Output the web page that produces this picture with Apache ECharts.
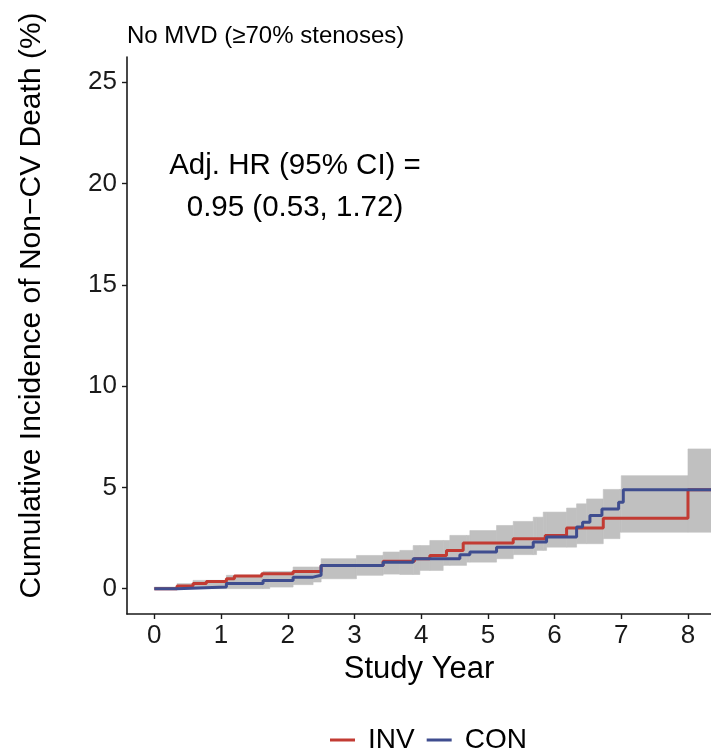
<!DOCTYPE html>
<html>
<head>
<meta charset="utf-8">
<script src="https://cdn.jsdelivr.net/npm/echarts@6/dist/echarts.min.js"></script>
<style>html,body{margin:0;padding:0;background:#fff;}#c{width:711px;height:749px;}</style>
</head>
<body>
<div id="c"></div>
<script>
// ---- data ----
const xTicks = [0, 1, 2, 3, 4, 5, 6, 7, 8];
const yTicks = [0, 5, 10, 15, 20, 25];
const seriesNames = ['INV', 'CON'];

const invX = [0, 0.34, 0.58, 0.78, 1.08, 1.2, 1.61, 2.08, 2.5, 3.43, 3.9, 4.13, 4.38, 4.63, 5.38, 5.86, 6.18, 6.73, 8.0, 8.4];
const invY = [0, 0.13, 0.25, 0.36, 0.49, 0.62, 0.74, 0.85, 1.15, 1.35, 1.48, 1.64, 1.89, 2.25, 2.46, 2.62, 2.99, 3.48, 4.88, 4.88];

const conX = [0, 0.34, 1.08, 1.63, 2.08, 2.38, 2.5, 3.43, 3.88, 4.58, 4.73, 5.13, 5.68, 5.88, 6.33, 6.42, 6.53, 6.71, 6.96, 7.03, 8.4];
const conY = [0, 0.08, 0.25, 0.41, 0.57, 0.66, 1.15, 1.31, 1.48, 1.68, 1.81, 2.05, 2.3, 2.55, 3.04, 3.28, 3.61, 3.94, 4.27, 4.88, 4.88];

const bandX   = [0, 0.34, 0.58, 1.08, 1.63, 1.73, 2.08, 2.38, 2.5, 3.03, 3.43, 3.68, 3.88, 3.98, 4.13, 4.33, 4.43, 4.68, 4.73, 5.13, 5.38, 5.68, 5.73, 5.83, 5.88, 6.18, 6.33, 6.48, 6.73, 6.98, 7.0, 8.0, 8.4];
const bandUp  = [0.08, 0.25, 0.41, 0.66, 0.85, 0.85, 1.07, 1.07, 1.48, 1.64, 1.81, 1.89, 2.13, 2.13, 2.38, 2.38, 2.63, 2.63, 2.87, 3.12, 3.32, 3.53, 3.53, 3.78, 3.78, 3.98, 4.19, 4.43, 4.9, 4.9, 5.58, 6.9, 6.9];
const bandLow = [0, 0, 0, 0, 0, 0.08, 0.2, 0.33, 0.49, 0.66, 0.72, 0.7, 0.7, 0.9, 0.9, 1.15, 1.15, 1.31, 1.31, 1.48, 1.68, 1.68, 1.89, 1.89, 2.05, 2.05, 2.22, 2.22, 2.47, 2.79, 2.79, 2.79, 2.79];

const titleText = 'No MVD (\u226570% stenoses)';
const annotText = 'Adj. HR (95% CI) =\n0.95 (0.53, 1.72)';
const xName = 'Study Year';
const yName = 'Cumulative Incidence of Non\u2212CV Death (%)';

// ---- build ----
const FONT = "'Liberation Sans', Arial, Helvetica, sans-serif";
const zip = (a, b) => a.map((v, i) => [v, b[i]]);
const RED = '#C23B33', BLUE = '#3F4D8F', BAND = '#C0C0C0', AX = '#1a1a1a';

// band step segments: [x start, x end, lower, upper]
const bandSegs = bandX.slice(0, -1).map((x, i) => [x, bandX[i + 1], bandLow[i], bandUp[i]]);

const chart = echarts.init(document.getElementById('c'), null, {renderer: 'canvas'});
chart.setOption({
  backgroundColor: '#fff',
  animation: false,
  textStyle: {fontFamily: FONT},
  title: {
    text: titleText, left: 127, top: 24, padding: 0,
    textStyle: {fontFamily: FONT, fontSize: 24, fontWeight: 'normal', color: '#000'}
  },
  grid: {left: 127, right: 0, top: 57, bottom: 135, containLabel: false},
  xAxis: {
    type: 'value', min: -0.41, max: 8.345,
    name: xName, nameLocation: 'middle', nameGap: 40,
    nameTextStyle: {fontFamily: FONT, fontSize: 31, color: '#000', lineHeight: 31},
    axisLine: {show: true, onZero: false, lineStyle: {color: AX, width: 1.6}},
    axisTick: {show: true, customValues: xTicks, length: 5, lineStyle: {color: AX, width: 1.4}},
    axisLabel: {customValues: xTicks, margin: 9, fontFamily: FONT, fontSize: 26, color: '#1a1a1a', lineHeight: 26},
    splitLine: {show: false}
  },
  yAxis: {
    type: 'value', min: -1.25, max: 26.25,
    name: yName, nameLocation: 'middle', nameGap: 80, nameRotate: 90,
    nameTextStyle: {fontFamily: FONT, fontSize: 30, color: '#000', lineHeight: 30, padding: [0, 0, 0, 60]},
    axisLine: {show: true, onZero: false, lineStyle: {color: AX, width: 1.6}},
    axisTick: {show: true, customValues: yTicks, length: 5, lineStyle: {color: AX, width: 1.4}},
    axisLabel: {customValues: yTicks, margin: 10, fontFamily: FONT, fontSize: 26, color: '#1a1a1a'},
    splitLine: {show: false}
  },
  legend: {
    data: seriesNames, left: 325, top: 721, orient: 'horizontal',
    icon: 'rect', itemWidth: 25, itemHeight: 3, itemGap: 12,
    textStyle: {fontFamily: FONT, fontSize: 28, color: '#000', padding: [0, 0, 0, 8]}
  },
  graphic: [{
    type: 'text', left: 168, top: 145, z: 100,
    style: {text: annotText, font: '29.5px ' + FONT, fill: '#000', textAlign: 'center', lineHeight: 42, width: 254, align: 'center'}
  }],
  series: [
    {
      name: 'band', type: 'custom', silent: true, clip: true, z: 1,
      data: bandSegs,
      encode: {x: [0, 1], y: [2, 3]},
      renderItem: function (params, api) {
        const tl = api.coord([api.value(0), api.value(3)]);
        const br = api.coord([api.value(1), api.value(2)]);
        return {
          type: 'rect',
          shape: {x: tl[0], y: tl[1], width: br[0] - tl[0], height: br[1] - tl[1]},
          style: {fill: BAND, stroke: BAND, lineWidth: 0.6}
        };
      }
    },
    {
      name: 'INV', type: 'line', step: 'end', symbol: 'none', data: zip(invX, invY),
      lineStyle: {color: RED, width: 3}, itemStyle: {color: RED}, z: 3
    },
    {
      name: 'CON', type: 'line', step: 'end', symbol: 'none', data: zip(conX, conY),
      lineStyle: {color: BLUE, width: 3}, itemStyle: {color: BLUE}, z: 4
    }
  ]
});
</script>
</body>
</html>
